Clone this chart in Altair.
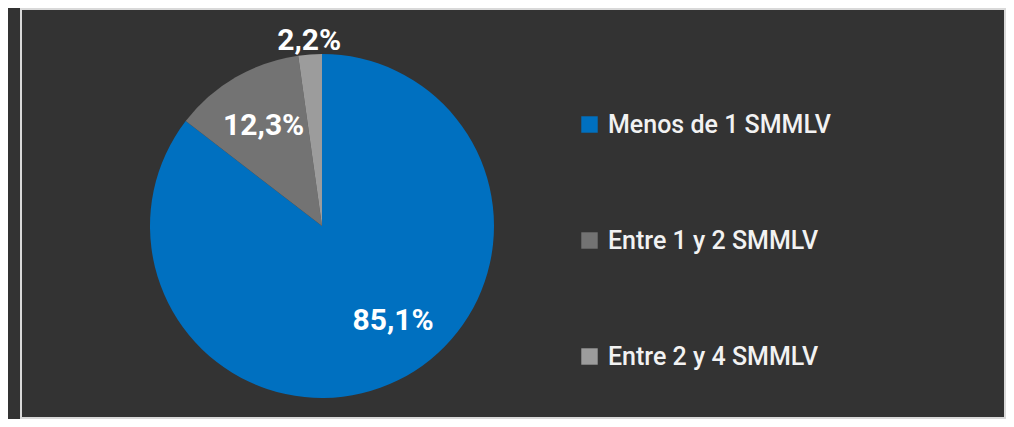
import altair as alt
import pandas as pd

categories = ["Menos de 1 SMMLV", "Entre 1 y 2 SMMLV", "Entre 2 y 4 SMMLV"]
values = [85.1, 12.3, 2.2]
labels = ["85,1%", "12,3%", "2,2%"]
colors = ["#0070C0", "#737373", "#9C9C9C"]

df = pd.DataFrame({"cat": categories, "value": values, "label": labels,
                   "idx": list(range(len(categories)))})

CX, CY, R = 301, 217, 172

base = alt.Chart(df).encode(
    theta=alt.Theta("value:Q", stack=True),
    order=alt.Order("idx:Q"),
)

pie = base.mark_arc(radius=R, stroke=None).encode(
    x=alt.value(CX), y=alt.value(CY),
    color=alt.Color("cat:N", scale=alt.Scale(domain=categories, range=colors),
                    sort=categories,
                    legend=alt.Legend(title=None, orient="none", legendX=556, legendY=103,
                                      symbolType="square", symbolSize=270,
                                      symbolStrokeWidth=0, symbolOpacity=1,
                                      labelFontSize=25, labelColor="#F2F2F2",
                                      labelFont="Roboto", labelFontWeight=500,
                                      labelOffset=6,
                                      rowPadding=90, labelLimit=400)),
)

def text_layer(lbl, radius, dx=0, dy=0):
    return base.mark_text(radius=radius, font="Roboto", fontWeight="bold", fontSize=30,
                          color="#FFFFFF", dx=dx, dy=dy).encode(
        x=alt.value(CX), y=alt.value(CY),
        text="label:N",
        opacity=alt.condition(alt.datum.label == lbl, alt.value(1), alt.value(0)),
    )

chart = alt.layer(
    pie,
    text_layer("85,1%", 118, dx=19, dy=-11),
    text_layer("12,3%", 116),
    text_layer("2,2%", 185),
).properties(
    width=984, height=409,
    padding={"left": 13, "top": 1, "right": 1, "bottom": 1},
    background="#333333",
).configure_view(stroke="#D9D9D9", strokeWidth=2)

chart.save("out.html", embed_options={"renderer": "svg", "actions": False})
